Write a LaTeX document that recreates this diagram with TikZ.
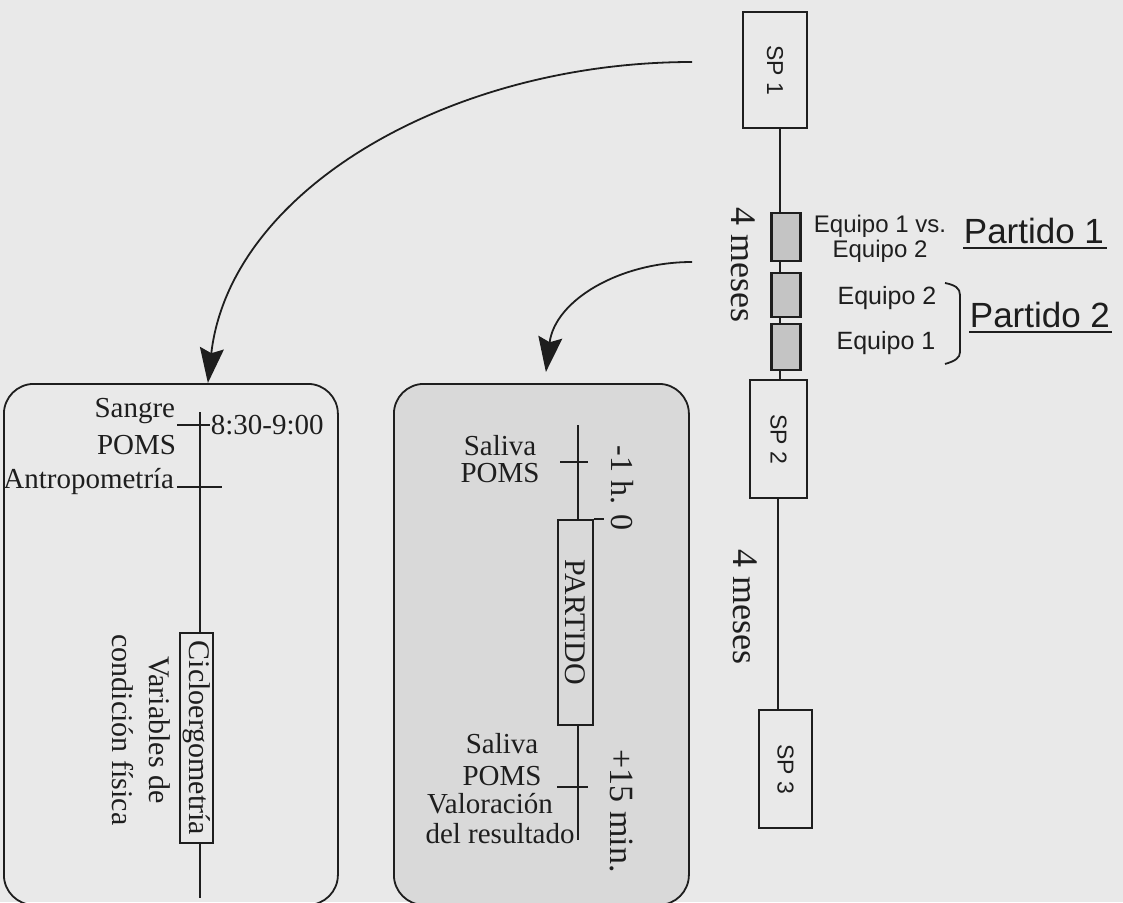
\documentclass[tikz,border=0pt]{standalone}
\usepackage{fontspec}
\usepackage{graphicx}
\setmainfont{Liberation Serif}
\newfontfamily\arialf{Liberation Sans}
\usetikzlibrary{arrows.meta}
\definecolor{bg}{HTML}{E9E9E9}
\definecolor{midfill}{HTML}{D9D9D9}
\definecolor{ink}{HTML}{1E1E1E}
\definecolor{shade}{HTML}{C4C4C4}
\begin{document}
\begin{tikzpicture}[x=1pt,y=-1pt,line width=1.8pt,color=ink,
  lbl/.style={font=\fontsize{29}{29}\selectfont,inner sep=0pt},
  rot/.style={rotate=-90,inner sep=0pt},
  spbox/.style={draw,inner sep=0pt,font=\arialf\fontsize{23}{23}\selectfont},
  eqbox/.style={draw,line width=2.6pt,fill=shade,minimum width=29pt,inner sep=0pt},
  rbox/.style={draw,rounded corners=30pt,anchor=north west,inner sep=0pt},
  sans/.style={font=\arialf\fontsize{25}{23}\selectfont,inner sep=0pt,align=center},
  big/.style={font=\arialf\fontsize{35}{35}\selectfont,inner sep=0pt},
  arr/.style={-{Stealth[length=35pt,width=24pt,inset=5pt]}}
]
\fill[bg] (0,0) rectangle (1123,902);
\useasboundingbox (0,0) rectangle (1123,902);

% rounded boxes
\node[rbox,minimum width=334pt,minimum height=521pt] (lbox) at (3,383) {};
\node[rbox,fill=midfill,minimum width=295pt,minimum height=521pt] (mbox) at (393,383) {};

% ---------- right timeline ----------
\coordinate (ax) at (780,0);
\node[spbox,minimum width=64pt,minimum height=116pt] (sp1) at (775,70) {\rotatebox{-90}{SP 1}};
\node[eqbox,minimum height=48pt] (b1) at (786,237) {};
\node[eqbox,minimum height=44pt] (b2) at (786,295) {};
\node[eqbox,minimum height=46pt] (b3) at (786,347) {};
\node[spbox,minimum width=57pt,minimum height=118pt] (sp2) at (778.5,439) {\rotatebox{-90}{SP 2}};
\node[spbox,minimum width=53pt,minimum height=118pt] (sp3) at (785.5,769) {\rotatebox{-90}{SP 3}};
\draw (sp1.south -| ax) -- (b1.north -| ax);
\draw (b1.south -| ax) -- (b2.north -| ax);
\draw (b2.south -| ax) -- (b3.north -| ax);
\draw (b3.south -| ax) -- (sp2.north -| ax);
\coordinate (ax2) at (778,0);
\draw (sp2.south -| ax2) -- (sp3.north -| ax2);

\node[rot,font=\fontsize{36}{36}\selectfont] (m1) at (743,265) {4 meses};
\node[rot,font=\fontsize{36}{36}\selectfont] (m2) at (745,607) {4 meses};

\node[sans,font=\arialf\fontsize{24}{25}\selectfont] (e1) at (880,239) {Equipo 1 vs.\\Equipo 2};
\node[sans] (e2) at (887,298) {Equipo 2};
\node[sans] (e3) at (886,343) {Equipo 1};
\draw (945,283) .. controls (955,285) and (960,288) .. (960,295) -- (960,352) .. controls (960,358) and (955,361) .. (945,364);
\node[big,anchor=base west] (p1) at (963,243) {Partido 1};
\draw ([yshift=-5pt]p1.base west) -- ([yshift=-5pt,xshift=2pt]p1.base east);
\node[big,anchor=base west] (p2) at (969,327) {Partido 2};
\draw ([yshift=-5pt]p2.base west) -- ([yshift=-5pt,xshift=1pt]p2.base east);

% ---------- arrows ----------
\coordinate (a1s) at (692,62);
\draw[arr] (a1s) .. controls (450,62) and (230,190) .. ([xshift=37pt]lbox.north);
\coordinate (a2s) at (692,262);
\draw[arr] (a2s) .. controls (620,262) and (555,300) .. ([xshift=4.5pt,yshift=11pt]mbox.north);

% ---------- left box ----------
\coordinate (lt) at (200,412);
\coordinate (lb) at (200,898);
\node[draw,inner sep=0pt,minimum width=33pt,minimum height=210pt,font=\fontsize{30}{30}\selectfont] (cic) at (196.5,738) {\rotatebox{-90}{Cicloergometría}};
\draw (lt) -- (cic.north -| lt);
\draw (cic.south -| lt) -- (lb);
\draw (177,425) -- (210,425);
\draw (177,487) -- (222,487);
\node[lbl,anchor=base east] (sang) at (176,417) {Sangre};
\node[lbl,anchor=base east] (poms1) at (177,454) {POMS};
\node[lbl,anchor=base east] (antro) at (175,488) {Antropometría};
\node[lbl,anchor=base west] (hora) at (210,434) {8:30-9:00};
\node[rot,align=center,font=\fontsize{30}{37}\selectfont] (vars) at (141.5,730) {Variables de\\condición física};

% ---------- middle box ----------
\coordinate (mt) at (578,425);
\coordinate (mb) at (578,840);
\node[draw,inner sep=0pt,minimum width=35pt,minimum height=205pt,font=\fontsize{30}{30}\selectfont] (part) at (575.5,622.5) {\rotatebox{-90}{PARTIDO}};
\draw (mt) -- (part.north -| mt);
\draw (part.south -| mt) -- (mb);
\draw (part.north east) -- ++(10,0);
\draw (560,462) -- (588,462);
\draw (557,787) -- (588,787);
\node[lbl,anchor=base] (sal1) at (500,455) {Saliva};
\node[lbl,anchor=base] (poms2) at (500,482) {POMS};
\node[lbl,anchor=base] (sal2) at (502,753) {Saliva};
\node[lbl,anchor=base] (poms3) at (502,785) {POMS};
\node[lbl,anchor=base] (val) at (490,813) {Valoración};
\node[lbl,anchor=base] (res) at (500,843) {del resultado};
\node[rot,font=\fontsize{32}{32}\selectfont] (h1) at (622,488) {-1 h. 0};
\node[rot,font=\fontsize{34}{34}\selectfont] (h2) at (622,811) {+15 min.};
\end{tikzpicture}
\end{document}
